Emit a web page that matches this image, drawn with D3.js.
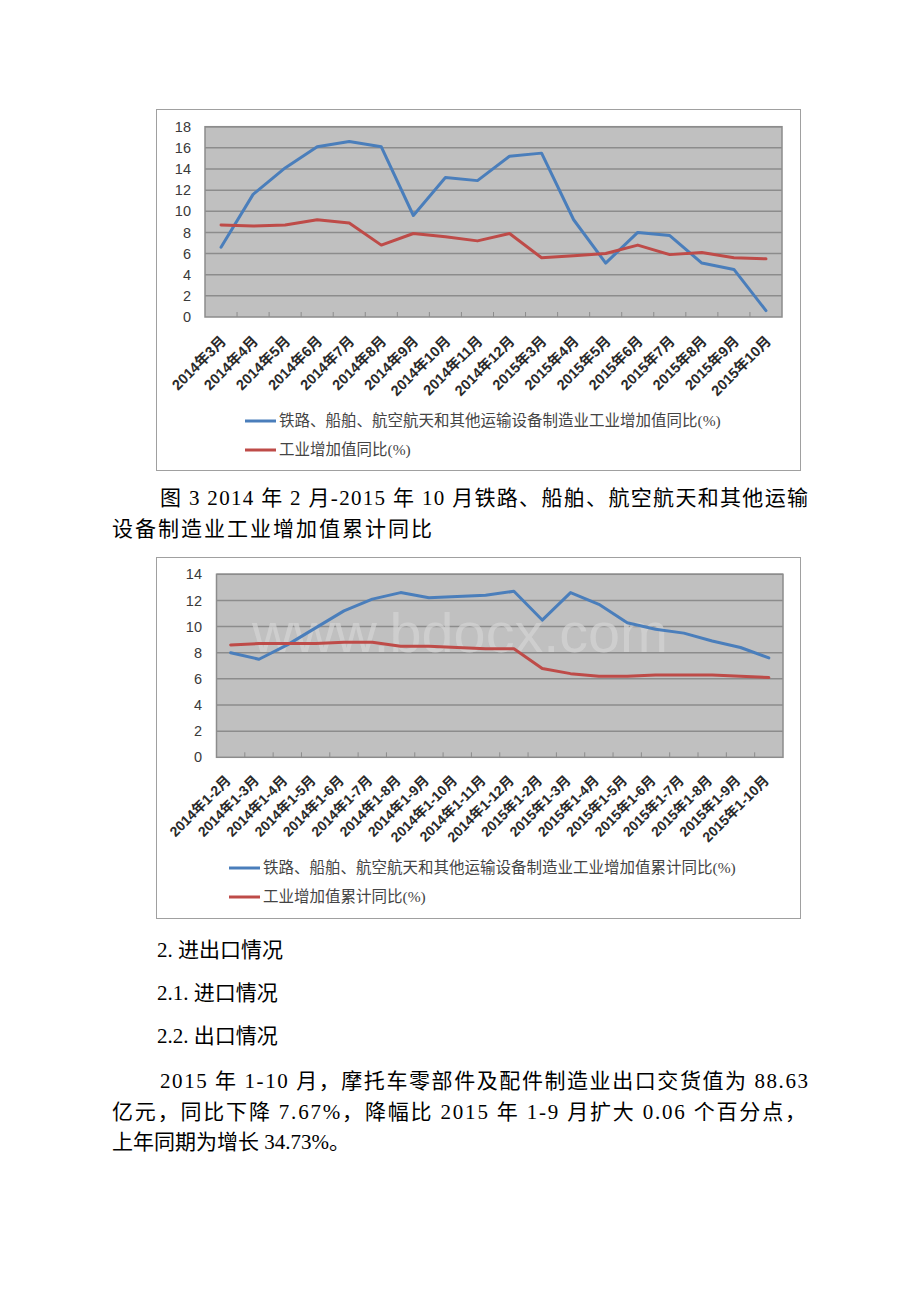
<!DOCTYPE html>
<html>
<head>
<meta charset="utf-8">
<script src="https://cdn.jsdelivr.net/npm/d3@7"></script>
<style>
  html, body { margin: 0; padding: 0; background: #fff; }
  svg { display: block; }
</style>
</head>
<body>
<svg id="page" width="920" height="1302"></svg>
<script>
// ---------------- DATA ----------------
const cats1 = ["2014年3月","2014年4月","2014年5月","2014年6月","2014年7月","2014年8月","2014年9月","2014年10月","2014年11月","2014年12月","2015年3月","2015年4月","2015年5月","2015年6月","2015年7月","2015年8月","2015年9月","2015年10月"];
const blue1 = [6.6, 11.6, 14.1, 16.1, 16.6, 16.1, 9.6, 13.2, 12.9, 15.2, 15.5, 9.2, 5.1, 8.0, 7.7, 5.1, 4.5, 0.6];
const red1  = [8.7, 8.6, 8.7, 9.2, 8.9, 6.8, 7.9, 7.6, 7.2, 7.9, 5.6, 5.8, 6.0, 6.8, 5.9, 6.1, 5.6, 5.5];
const yTicks1 = [0, 2, 4, 6, 8, 10, 12, 14, 16, 18];
const legend1 = ["铁路、船舶、航空航天和其他运输设备制造业工业增加值同比(%)", "工业增加值同比(%)"];

const cats2 = ["2014年1-2月","2014年1-3月","2014年1-4月","2014年1-5月","2014年1-6月","2014年1-7月","2014年1-8月","2014年1-9月","2014年1-10月","2014年1-11月","2014年1-12月","2015年1-2月","2015年1-3月","2015年1-4月","2015年1-5月","2015年1-6月","2015年1-7月","2015年1-8月","2015年1-9月","2015年1-10月"];
const blue2 = [8.0, 7.5, 8.6, 9.9, 11.2, 12.1, 12.6, 12.2, 12.3, 12.4, 12.7, 10.5, 12.6, 11.7, 10.3, 9.8, 9.5, 8.9, 8.4, 7.6];
const red2  = [8.6, 8.7, 8.7, 8.7, 8.8, 8.8, 8.5, 8.5, 8.4, 8.3, 8.3, 6.8, 6.4, 6.2, 6.2, 6.3, 6.3, 6.3, 6.2, 6.1];
const yTicks2 = [0, 2, 4, 6, 8, 10, 12, 14];
const legend2 = ["铁路、船舶、航空航天和其他运输设备制造业工业增加值累计同比(%)", "工业增加值累计同比(%)"];

const watermark = "www.bdocx.com";

const textLines = [
  {t: "图 3 2014 年 2 月-2015 年 10 月铁路、船舶、航空航天和其他运输", x: 160, y: 505, w: 648},
  {t: "设备制造业工业增加值累计同比", x: 112, y: 536, w: 320},
  {t: "2. 进出口情况", x: 157, y: 957},
  {t: "2.1. 进口情况", x: 157, y: 1000},
  {t: "2.2. 出口情况", x: 157, y: 1043},
  {t: "2015 年 1-10 月，摩托车零部件及配件制造业出口交货值为 88.63", x: 160, y: 1088, w: 648},
  {t: "亿元，同比下降 7.67%，降幅比 2015 年 1-9 月扩大 0.06 个百分点，", x: 112, y: 1119, w: 694},
  {t: "上年同期为增长 34.73%。", x: 112, y: 1149}
];

// ---------------- DRAW ----------------
const svg = d3.select("#page");
svg.append("rect").attr("width", 920).attr("height", 1302).attr("fill", "#fff");

const BLUE = "#4a7ebb", RED = "#be4b48";
const axisFont = "'Liberation Sans Narrow','Liberation Sans','Noto Sans CJK SC',sans-serif";
const legFont = "'Liberation Serif','Noto Sans CJK SC',serif";

function drawChart(cfg) {
  const g = svg.append("g");
  // outer frame
  g.append("rect")
    .attr("x", cfg.frame[0] + 0.5).attr("y", cfg.frame[1] + 0.5)
    .attr("width", cfg.frame[2] - cfg.frame[0]).attr("height", cfg.frame[3] - cfg.frame[1])
    .attr("fill", "#fff").attr("stroke", "#a0a0a0").attr("stroke-width", 1);

  const x = d3.scaleBand().domain(cfg.cats).range([cfg.left, cfg.right]).padding(0);
  const y = d3.scaleLinear().domain([0, d3.max(cfg.yTicks)]).range([cfg.bottom, cfg.top]);
  const cx = c => x(c) + x.bandwidth() / 2;

  // plot background
  g.append("rect")
    .attr("x", cfg.left).attr("y", cfg.top)
    .attr("width", cfg.right - cfg.left).attr("height", cfg.bottom - cfg.top)
    .attr("fill", "#c0c0c0");

  // gridlines
  g.append("g").selectAll("line").data(cfg.yTicks.filter(t => t > 0)).join("line")
    .attr("x1", cfg.left).attr("x2", cfg.right)
    .attr("y1", d => y(d)).attr("y2", d => y(d))
    .attr("stroke", "#8c8c8c").attr("stroke-width", 1.5);

  // category tick marks (inside, bottom)
  g.append("g").selectAll("line").data(cfg.cats.slice(1)).join("line")
    .attr("x1", d => x(d)).attr("x2", d => x(d))
    .attr("y1", cfg.bottom).attr("y2", cfg.bottom - 5)
    .attr("stroke", "#8c8c8c").attr("stroke-width", 1);

  // plot border
  g.append("rect")
    .attr("x", cfg.left).attr("y", cfg.top)
    .attr("width", cfg.right - cfg.left).attr("height", cfg.bottom - cfg.top)
    .attr("fill", "none").attr("stroke", "#8c8c8c").attr("stroke-width", 1.5);

  // watermark
  if (cfg.watermark) {
    g.append("text").text(cfg.watermark)
      .attr("x", cfg.wm[0]).attr("y", cfg.wm[1])
      .attr("text-anchor", "middle")
      .attr("font-family", "'Liberation Sans',Arial,sans-serif")
      .attr("font-size", 56)
      .attr("textLength", cfg.wm[2]).attr("lengthAdjust", "spacingAndGlyphs")
      .attr("fill", "#d4d4d4").attr("fill-opacity", 0.7);
  }

  // y axis
  const ya = g.append("g")
    .attr("transform", `translate(${cfg.yLabelRight},0)`)
    .call(d3.axisLeft(y).tickValues(cfg.yTicks).tickSize(0).tickPadding(0));
  ya.select(".domain").remove();
  ya.selectAll("text")
    .attr("font-family", axisFont).attr("font-size", 14.5).attr("fill", "#3a3a3a");

  // x axis labels
  const xa = g.append("g")
    .attr("transform", `translate(0,${cfg.bottom})`)
    .call(d3.axisBottom(x).tickSize(0).tickPadding(0));
  xa.select(".domain").remove();
  xa.selectAll(".tick").attr("transform", d => `translate(${cx(d) + cfg.xlab[0]},${cfg.xlab[1]})`);
  xa.selectAll("text")
    .attr("y", 0).attr("dy", 0)
    .attr("text-anchor", "end")
    .attr("transform", "rotate(-45)")
    .attr("font-family", axisFont).attr("font-size", cfg.xfs).attr("font-weight", "bold").attr("fill", "#2a2a2a");

  // lines
  const line = d3.line().x((d, i) => cx(cfg.cats[i])).y(d => y(d));
  [[cfg.blue, BLUE], [cfg.red, RED]].forEach(([vals, col]) => {
    g.append("path").datum(vals)
      .attr("d", line).attr("fill", "none")
      .attr("stroke", col).attr("stroke-width", 3)
      .attr("stroke-linejoin", "round").attr("stroke-linecap", "round");
  });

  // legend
  cfg.legend.forEach((lab, i) => {
    const ly = cfg.leg[1] + i * cfg.leg[2];
    g.append("line")
      .attr("x1", cfg.leg[0]).attr("x2", cfg.leg[0] + 31)
      .attr("y1", ly).attr("y2", ly)
      .attr("stroke", i === 0 ? BLUE : RED).attr("stroke-width", 3);
    g.append("text").text(lab)
      .attr("x", cfg.leg[0] + 34).attr("y", ly + 5)
      .attr("font-family", legFont).attr("font-size", 15.5)
      .attr("fill", "#444");
  });
}

drawChart({
  frame: [156, 109, 800, 470],
  left: 205, right: 782, top: 126.7, bottom: 317,
  cats: cats1, blue: blue1, red: red1, yTicks: yTicks1,
  yLabelRight: 191, xlab: [6, 25], xfs: 14.5,
  legend: legend1, leg: [245, 421, 29]
});

drawChart({
  frame: [156, 557, 800, 918],
  left: 216.5, right: 783, top: 574.3, bottom: 757.3,
  cats: cats2, blue: blue2, red: red2, yTicks: yTicks2,
  yLabelRight: 202, xlab: [1, 24], xfs: 14,
  legend: legend2, leg: [229, 868, 29],
  watermark: watermark, wm: [460, 652, 416]
});

// body text
const tg = svg.append("g");
textLines.forEach(l => {
  const t = tg.append("text").text(l.t)
    .attr("x", l.x).attr("y", l.y)
    .attr("font-family", "'Liberation Serif','Noto Sans CJK SC',serif")
    .attr("font-size", 21).attr("fill", "#000");
  if (l.w) t.attr("textLength", l.w).attr("lengthAdjust", "spacing");
});
</script>
</body>
</html>
